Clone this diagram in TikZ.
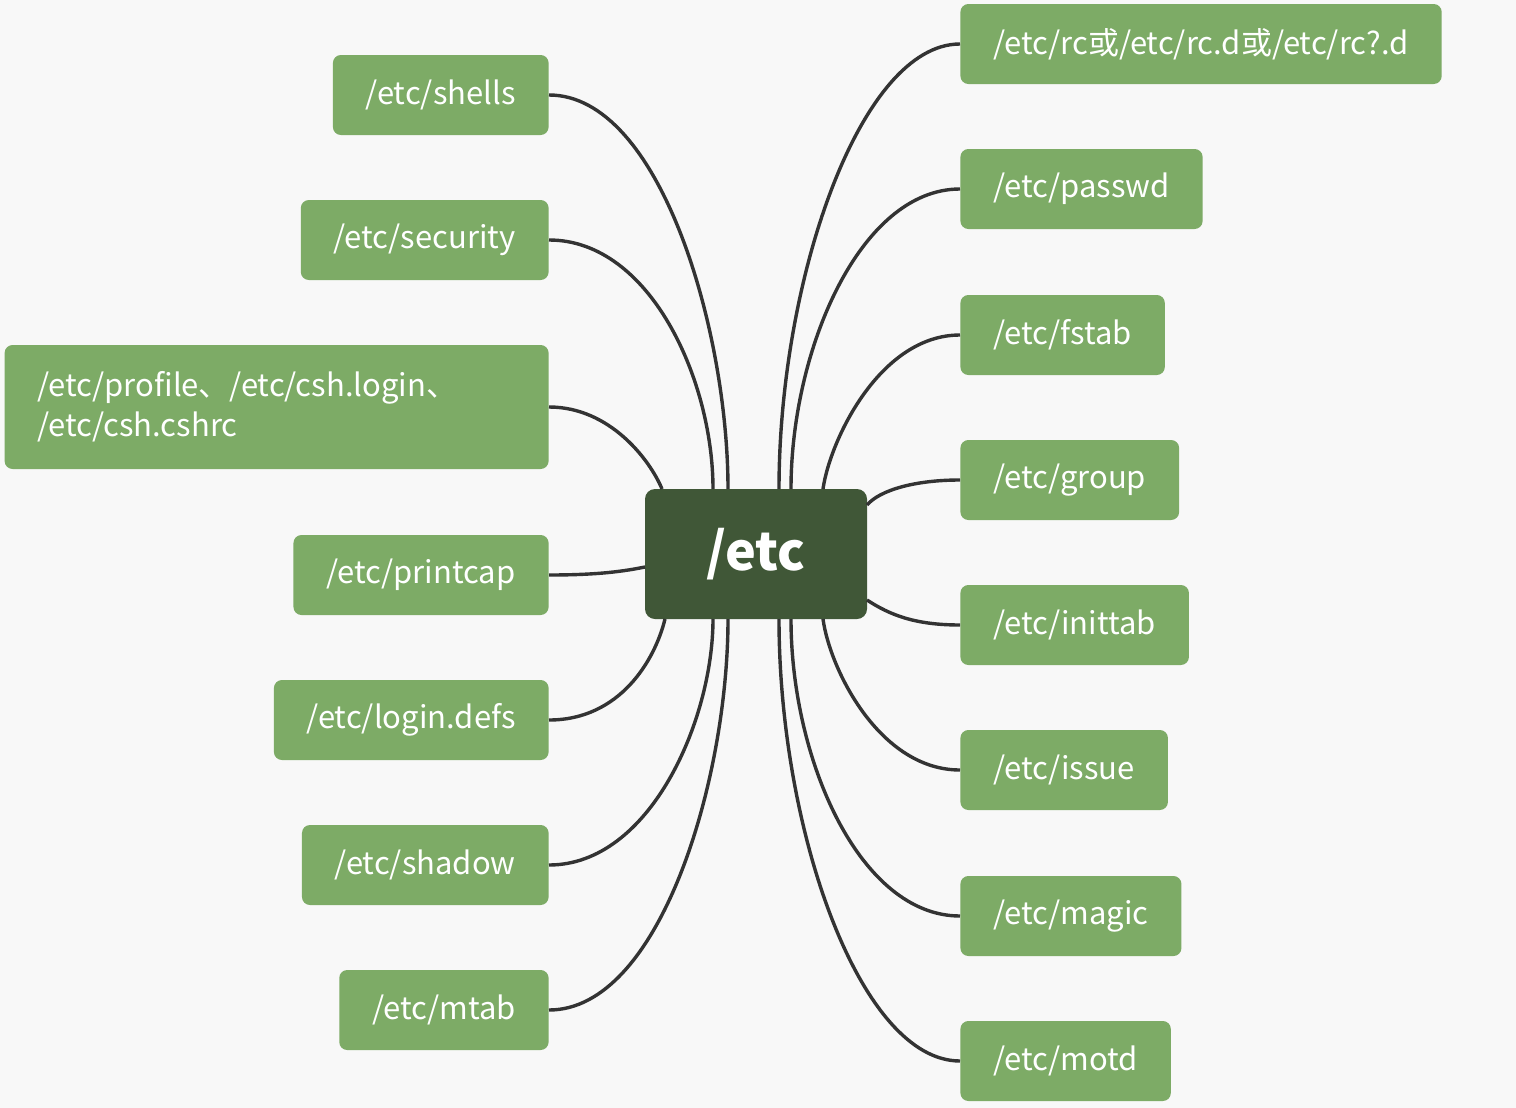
\documentclass[tikz,border=0pt]{standalone}
\usepackage{fontspec}
\setmainfont{Noto Sans CJK SC}
\begin{document}
\begin{tikzpicture}[x=0.5pt,y=-0.5pt,
 leaf/.style={fill=leafc,rounded corners=4pt,text=white,font=\fontsize{15.5}{20}\selectfont,minimum height=40pt,inner xsep=16.5pt,inner ysep=0pt},
 L/.style={leaf,anchor=east},R/.style={leaf,anchor=west},
 con/.style={draw=linec,line width=1.7pt}]
\definecolor{leafc}{HTML}{7DAB66}\definecolor{cen}{HTML}{405737}\definecolor{linec}{HTML}{333333}\definecolor{bg}{HTML}{F8F8F8}
\fill[bg] (0,0) rectangle (1516,1108);
\useasboundingbox (0,0) rectangle (1516,1108);
\node[fill=cen,rounded corners=5pt,text=white,minimum width=111pt,minimum height=65pt,font=\fontsize{26}{30}\selectfont\bfseries] (c) at (756,554) {/etc};
\node[L] (l1) at (549,95) {/etc/shells};
\node[L] (l2) at (549,240) {/etc/security};
\node[L,minimum height=62pt,minimum width=272pt,align=left,text width=239pt] (l3) at (549,407) {/etc/profile、/etc/csh.login、\\/etc/csh.cshrc};
\node[L] (l4) at (549,575) {/etc/printcap};
\node[L] (l5) at (549,720) {/etc/login.defs};
\node[L] (l6) at (549,865) {/etc/shadow};
\node[L] (l7) at (549,1010) {/etc/mtab};
\node[R] (r1) at (960,44) {/etc/rc或/etc/rc.d或/etc/rc?.d};
\node[R] (r2) at (960,189) {/etc/passwd};
\node[R] (r3) at (960,335) {/etc/fstab};
\node[R] (r4) at (960,480) {/etc/group};
\node[R] (r5) at (960,625) {/etc/inittab};
\node[R] (r6) at (960,770) {/etc/issue};
\node[R] (r7) at (960,916) {/etc/magic};
\node[R] (r8) at (960,1061) {/etc/motd};
\coordinate (a1) at (728,489);\coordinate (a2) at (713,489);\coordinate (a3) at (662,489);
\coordinate (a4) at (645,567);\coordinate (a5) at (665,619);\coordinate (a6) at (713,619);\coordinate (a7) at (728,619);
\coordinate (b1) at (779,489);\coordinate (b2) at (791,489);\coordinate (b3) at (823,489);
\coordinate (b4) at (867,505);\coordinate (b5) at (867,600);
\coordinate (b6) at (823,619);\coordinate (b7) at (791,619);\coordinate (b8) at (779,619);
\begin{scope}[on background layer/.style={}]
\draw[con] (l1.east) .. controls (660,95) and (728,330) .. (a1);
\draw[con] (l2.east) .. controls (650,240) and (713,380) .. (a2);
\draw[con] (l3.east) .. controls (610,407) and (650,460) .. (a3);
\draw[con] (l4.east) .. controls (600,575) and (625,571) .. (a4);
\draw[con] (l5.east) .. controls (620,720) and (655,660) .. (a5);
\draw[con] (l6.east) .. controls (650,865) and (713,720) .. (a6);
\draw[con] (l7.east) .. controls (660,1010) and (728,780) .. (a7);
\draw[con] (r1.west) .. controls (860,44) and (779,280) .. (b1);
\draw[con] (r2.west) .. controls (860,189) and (791,350) .. (b2);
\draw[con] (r3.west) .. controls (880,335) and (830,440) .. (b3);
\draw[con] (r4.west) .. controls (915,480) and (880,490) .. (b4);
\draw[con] (r5.west) .. controls (915,625) and (890,615) .. (b5);
\draw[con] (r6.west) .. controls (880,770) and (830,670) .. (b6);
\draw[con] (r7.west) .. controls (860,916) and (791,760) .. (b7);
\draw[con] (r8.west) .. controls (860,1061) and (779,830) .. (b8);
\end{scope}
\end{tikzpicture}
\end{document}
